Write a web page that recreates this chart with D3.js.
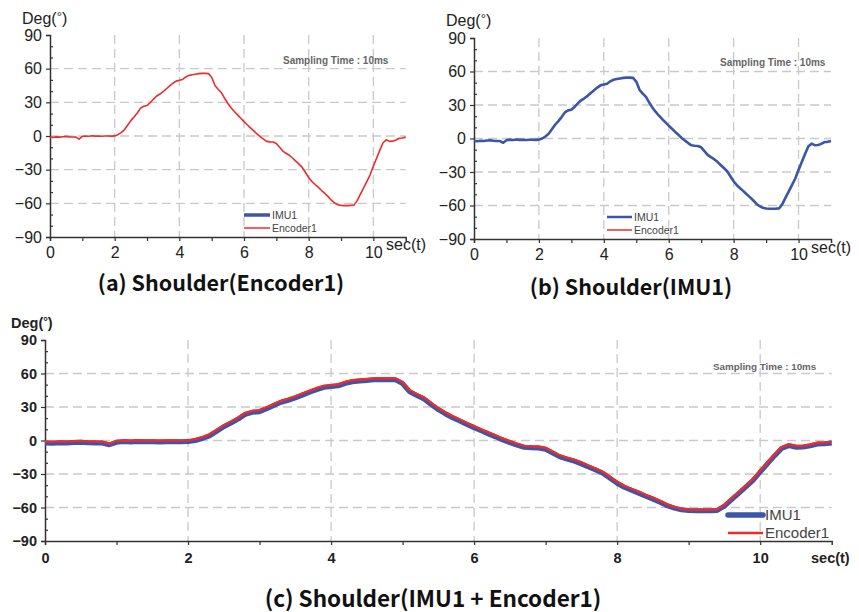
<!DOCTYPE html>
<html>
<head>
<meta charset="utf-8">
<script src="https://cdn.jsdelivr.net/npm/d3@7"></script>
<style>
body { margin: 0; background: #fff; }
text { font-family: "Liberation Sans", Arial, sans-serif; }
.cap { font-family: "Noto Sans CJK KR", "Noto Sans", sans-serif; font-weight: bold; }
</style>
</head>
<body>
<div id="chart"></div>
<script>
// sample times (sec)
var time = [0.0,0.1,0.2,0.3,0.4,0.5,0.6,0.7,0.8,0.9,1.0,1.1,1.2,1.3,1.4,1.5,1.6,1.7,1.8,1.9,
  2.0,2.1,2.2,2.3,2.4,2.5,2.6,2.7,2.8,2.9,3.0,3.1,3.2,3.3,3.4,3.5,3.6,3.7,3.8,3.9,
  4.0,4.1,4.2,4.3,4.4,4.5,4.6,4.7,4.8,4.9,5.0,5.1,5.2,5.3,5.4,5.5,5.6,5.7,5.8,5.9,
  6.0,6.1,6.2,6.3,6.4,6.5,6.6,6.7,6.8,6.9,7.0,7.1,7.2,7.3,7.4,7.5,7.6,7.7,7.8,7.9,
  8.0,8.1,8.2,8.3,8.4,8.5,8.6,8.7,8.8,8.9,9.0,9.1,9.2,9.3,9.4,9.5,9.6,9.7,9.8,9.9,
  10.0,10.1,10.2,10.3,10.4,10.5,10.6,10.7,10.8,10.9,11.0];

// shoulder angle (deg)
var encoder1 = [-1.0,-1.2,-0.8,-1.0,-0.6,-0.3,-0.8,-0.9,-1.0,-2.8,-0.4,0.0,-0.2,0.2,-0.1,0.0,-0.2,0.0,0.0,-0.1,
  0.1,1.2,3.0,5.5,9.6,13.7,17.0,20.5,24.8,26.5,27.2,29.8,32.8,35.6,37.4,39.6,42.1,44.6,47.0,48.9,
  49.6,50.4,52.6,54.0,54.6,55.1,55.6,55.8,55.8,55.6,52.4,45.0,41.6,38.6,33.6,29.0,25.2,21.8,18.8,15.8,
  12.8,10.0,7.2,4.6,1.8,-0.6,-2.8,-4.8,-5.2,-5.4,-6.6,-10.0,-13.4,-15.4,-17.2,-19.6,-22.4,-25.1,-28.0,-32.5,
  -37.0,-40.6,-43.2,-45.8,-48.6,-51.2,-54.0,-57.2,-59.6,-61.2,-61.8,-62.0,-62.0,-61.8,-61.6,-57.6,-51.8,-46.2,-40.4,-34.6,
  -27.0,-19.8,-12.6,-6.0,-3.4,-4.8,-4.6,-3.6,-2.0,-1.8,-1.0];

var imu1 = [-2.2,-2.4,-2.0,-2.3,-1.8,-1.5,-2.0,-2.2,-2.3,-3.8,-1.6,-1.0,-1.3,-0.9,-1.2,-1.1,-1.3,-1.1,-1.1,-1.2,
  -1.0,0.0,1.8,4.2,8.2,12.3,15.6,19.2,23.4,25.2,25.8,28.4,31.4,34.2,36.0,38.2,40.7,43.2,45.6,47.6,
  48.3,49.0,51.2,52.6,53.2,53.8,54.3,54.5,54.5,54.3,51.0,43.6,40.2,37.2,32.2,27.6,23.8,20.4,17.4,14.4,
  11.5,8.7,5.9,3.3,0.5,-1.9,-4.1,-6.1,-6.5,-6.7,-7.9,-11.3,-14.7,-16.7,-18.5,-20.9,-23.7,-26.4,-29.3,-33.8,
  -38.3,-41.9,-44.5,-47.1,-49.9,-52.5,-55.3,-58.4,-60.6,-62.1,-62.7,-62.9,-62.9,-62.8,-62.6,-58.8,-53.0,-47.4,-41.6,-35.8,
  -28.2,-21.0,-13.8,-7.2,-4.6,-6.0,-5.8,-4.8,-3.2,-3.0,-2.2];

var yTicks = [-90, -60, -30, 0, 30, 60, 90];
var yGrid = [-60, -30, 0, 30, 60];
var xTicks = [0, 2, 4, 6, 8, 10];
var xGrid = [2, 4, 6, 8, 10];
var seriesNames = ["IMU1", "Encoder1"];

var blue = "#3b55a8", red = "#ee2b2b";

var svg = d3.select("#chart").append("svg")
  .attr("width", 859).attr("height", 612)
  .style("background", "#fff");

var imuData = time.map(function(t, i) { return [t, imu1[i]]; });
var encData = time.map(function(t, i) { return [t, encoder1[i]]; });

function panel(p) {
  var x = d3.scaleLinear().domain([0, 11]).range([p.left, p.right]);
  var y = d3.scaleLinear().domain([-90, 90]).range([p.bottom, p.top]);
  var g = svg.append("g");

  // grid
  g.selectAll(".hg").data(yGrid).enter().append("line")
    .attr("x1", p.left).attr("x2", p.right)
    .attr("y1", function(d) { return y(d); }).attr("y2", function(d) { return y(d); })
    .attr("stroke", "#c9c9c9").attr("stroke-width", 1.3).attr("stroke-dasharray", "9,5");
  g.selectAll(".vg").data(xGrid).enter().append("line")
    .attr("y1", p.top).attr("y2", p.bottom)
    .attr("x1", function(d) { return x(d); }).attr("x2", function(d) { return x(d); })
    .attr("stroke", "#c9c9c9").attr("stroke-width", 1.3).attr("stroke-dasharray", "9,5");

  // axes
  var ax = g.append("g").attr("transform", "translate(0," + p.bottom + ")")
    .call(d3.axisBottom(x).tickValues(d3.range(0, 11)).tickSize(4)
      .tickFormat(function(d) { return xTicks.indexOf(d) >= 0 ? d : ""; }));
  var ay = g.append("g").attr("transform", "translate(" + p.left + ",0)")
    .call(d3.axisLeft(y).tickValues(yTicks).tickSize(4));
  g.append("g").attr("transform", "translate(" + p.left + ",0)")
    .call(d3.axisRight(y).tickValues(d3.range(-80, 90, 10).filter(function(d) { return d % 30 != 0; }))
      .tickSize(3).tickFormat(""))
    .select(".domain").remove();
  [ax, ay].forEach(function(a) {
    a.select(".domain").attr("stroke", "#333").attr("stroke-width", 1.5);
    a.selectAll("text").attr("fill", "#222").style("font-size", p.tickFont + "px")
      .style("font-weight", p.tickBold ? "bold" : "normal");
  });
  g.selectAll(".tick line").attr("stroke", "#333").attr("stroke-width", 1.2);
  ax.selectAll("text").attr("dy", p.xLabDy);
  ay.selectAll("text").attr("dx", "-1");

  // lines
  var line = d3.line().x(function(d) { return x(d[0]); }).y(function(d) { return y(d[1]); });
  if (p.imu) g.append("path").datum(imuData).attr("d", line).attr("fill", "none")
    .attr("stroke", blue).attr("stroke-width", p.imuW).attr("stroke-linejoin", "round");
  if (p.enc) g.append("path").datum(encData).attr("d", line).attr("fill", "none")
    .attr("stroke", red).attr("stroke-width", p.encW).attr("stroke-linejoin", "round");

  // axis titles
  var dt = g.append("text").attr("x", p.degX).attr("y", p.degY)
    .style("font-size", p.labFont + "px").attr("fill", "#222")
    .style("font-weight", p.tickBold ? "bold" : "normal");
  dt.append("tspan").text("Deg(");
  dt.append("tspan").text("°").attr("dy", -3).style("font-size", (p.labFont - 3) + "px");
  dt.append("tspan").text(")").attr("dy", 3);
  g.append("text").attr("x", p.secX).attr("y", p.secY).text("sec(t)")
    .style("font-size", p.labFont + "px").attr("fill", "#222")
    .style("font-weight", p.tickBold ? "bold" : "normal");

  g.append("text").attr("x", p.sampX).attr("y", p.sampY).text("Sampling Time : 10ms")
    .style("font-size", p.sampFont + "px").style("font-weight", "bold").attr("fill", "#666");

  // legend
  var lg = g.selectAll(".lg").data(seriesNames).enter().append("g")
    .attr("transform", function(d, i) { return "translate(" + p.legX + "," + (p.legY + i * p.legStep) + ")"; });
  lg.append("line").attr("x1", 0).attr("x2", p.legLen)
    .attr("stroke", function(d, i) { return i == 0 ? blue : red; })
    .attr("stroke-width", function(d, i) { return i == 0 ? p.legImuW : p.legEncW; })
    .attr("stroke-linecap", function(d, i) { return i == 0 && p.legImuW > 4 ? "round" : "butt"; });
  lg.append("text").attr("x", p.legLen + 2).attr("y", p.legFont * 0.36).text(function(d) { return d; })
    .style("font-size", p.legFont + "px").attr("fill", "#444");

  svg.append("text").attr("class", "cap").attr("x", p.capX).attr("y", p.capY)
    .attr("text-anchor", "middle").text(p.caption)
    .style("font-size", p.capFont + "px").attr("fill", "#111");
}

panel({left: 50, right: 405.7, top: 35, bottom: 237, imu: false, enc: true, imuW: 3, encW: 1.6,
  tickFont: 16, tickBold: false, xLabDy: "0.85em", labFont: 16,
  degX: 22, degY: 24, secX: 386, secY: 250,
  sampX: 283, sampY: 64, sampFont: 10,
  legX: 244, legY: 215, legStep: 13, legLen: 26, legImuW: 3.5, legEncW: 1.5, legFont: 10.5,
  capX: 221, capY: 291, capFont: 21.5, caption: "(a) Shoulder(Encoder1)"});

panel({left: 474, right: 831, top: 38, bottom: 239, imu: true, enc: false, imuW: 2.6, encW: 1.6,
  tickFont: 16, tickBold: false, xLabDy: "0.85em", labFont: 16,
  degX: 446, degY: 26, secX: 811, secY: 253,
  sampX: 720, sampY: 66, sampFont: 10,
  legX: 607, legY: 217, legStep: 13, legLen: 25, legImuW: 2.5, legEncW: 1.5, legFont: 10.5,
  capX: 631, capY: 295, capFont: 21.5, caption: "(b) Shoulder(IMU1)"});

panel({left: 45, right: 831.7, top: 340, bottom: 541, imu: true, enc: true, imuW: 5, encW: 2.4,
  tickFont: 14.5, tickBold: true, xLabDy: "1.0em", labFont: 14.5,
  degX: 11, degY: 328, secX: 811, secY: 563,
  sampX: 713, sampY: 370, sampFont: 9.8,
  legX: 728, legY: 515, legStep: 18, legLen: 35, legImuW: 5.5, legEncW: 2.5, legFont: 15,
  capX: 433, capY: 607, capFont: 22.5, caption: "(c) Shoulder(IMU1 + Encoder1)"});
</script>
</body>
</html>
